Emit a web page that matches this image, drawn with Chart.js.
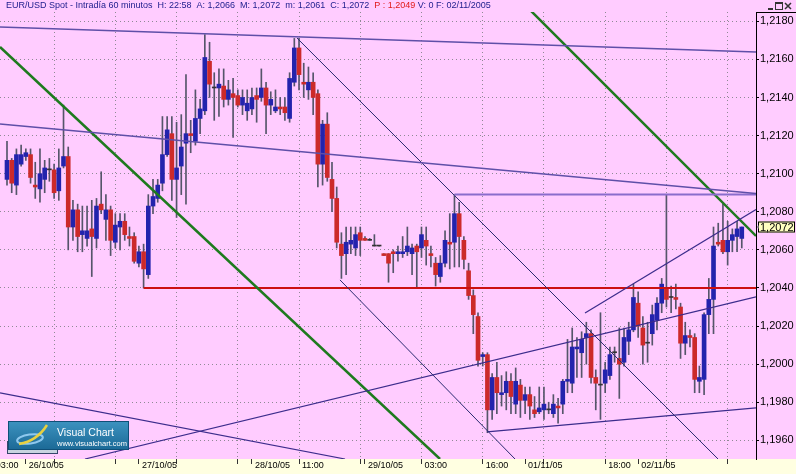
<!DOCTYPE html>
<html><head><meta charset="utf-8">
<script src="https://cdn.jsdelivr.net/npm/chart.js@4.4.0/dist/chart.umd.min.js"></script>
<style>html,body{margin:0;padding:0;background:#FFCCFF;overflow:hidden}canvas{display:block}</style>
</head><body>
<canvas id="c" width="796" height="474"></canvas>
<script>
// ---- data: hourly EUR/USD candles (index 0 = first bar on the chart) ----
const opens = [
1.2097,1.2107,1.2094,1.2105,1.2109,1.2110,1.2094,1.2092,1.2097,1.2102,
1.2102,1.2091,1.2104,1.2109,1.2072,1.2081,1.2068,1.2066,1.2071,1.2066,
1.2084,1.2076,1.2081,1.2064,1.2072,1.2075,1.2067,1.2067,1.2053,1.2059,
1.2047,1.2083,1.2087,1.2095,1.2110,1.2121,1.2097,1.2104,1.2116,1.2121,
1.2117,1.2129,1.2133,1.2159,1.2145,1.2145,1.2146,1.2139,1.2142,1.2141,
1.2136,1.2133,1.2134,1.2141,1.2140,1.2145,1.2136,1.2133,1.2135,1.2135,
1.2129,1.2148,1.2166,1.2148,1.2144,1.2148,1.2142,1.2105,1.2126,1.2097,
1.2087,1.2063,1.2058,1.2063,1.2061,1.2069,1.2066,1.2065,1.2062,1.2062,
1.2058,1.2058,1.2059,1.2058,1.2058,1.2059,1.2058,1.2062,1.2061,1.2065,
1.2058,1.2053,1.2046,1.2053,1.2064,1.2064,1.2079,1.2065,1.2049,1.2036,
1.2025,1.2004,1.2005,1.1976,1.1993,1.1984,1.1985,1.1991,1.1979,1.1989,
1.1981,1.1984,1.1976,1.1975,1.1976,1.1976,1.1974,1.1978,1.1979,1.1991,
1.1990,1.2008,1.2006,1.2014,1.2016,1.1993,1.1989,1.1990,1.1994,1.2006,
1.2003,1.2001,1.2012,1.2018,1.2032,1.2019,1.2011,1.2016,1.2023,1.2032,
1.2040,1.2035,1.2035,1.2030,1.2011,1.2015,1.2014,1.1991,1.1992,1.2026,
1.2034,1.2064,1.2065,1.2059,1.2065,1.2067,1.2066];
const highs = [
1.2117,1.2108,1.2113,1.2115,1.2113,1.2113,1.2106,1.2113,1.2107,1.2108,
1.2105,1.2113,1.2136,1.2114,1.2086,1.2084,1.2083,1.2083,1.2086,1.2087,
1.2101,1.2089,1.2083,1.2079,1.2079,1.2079,1.2072,1.2069,1.2062,1.2063,
1.2089,1.2097,1.2097,1.2130,1.2130,1.2130,1.2127,1.2131,1.2152,1.2128,
1.2144,1.2139,1.2173,1.2169,1.2153,1.2155,1.2155,1.2149,1.2150,1.2144,
1.2144,1.2144,1.2145,1.2145,1.2155,1.2148,1.2143,1.2144,1.2140,1.2140,
1.2153,1.2171,1.2171,1.2158,1.2156,1.2153,1.2144,1.2128,1.2132,1.2106,
1.2093,1.2069,1.2072,1.2072,1.2072,1.2072,1.2067,1.2066,1.2068,1.2062,
1.2058,1.2058,1.2060,1.2062,1.2067,1.2072,1.2063,1.2063,1.2072,1.2072,
1.2062,1.2056,1.2057,1.2070,1.2079,1.2089,1.2085,1.2067,1.2053,1.2039,
1.2027,1.2006,1.2006,1.1995,1.2001,1.1994,1.1996,1.1995,1.1998,1.1992,
1.1988,1.1988,1.1983,1.1988,1.1988,1.1980,1.1984,1.1982,1.1992,1.2013,
1.2019,1.2014,1.2017,1.2022,1.2018,1.1997,1.2027,1.2001,1.2009,1.2009,
1.2019,1.2019,1.2022,1.2042,1.2038,1.2025,1.2022,1.2031,1.2035,1.2045,
1.2089,1.2041,1.2042,1.2032,1.2022,1.2018,1.2016,1.1999,1.2027,1.2045,
1.2072,1.2074,1.2084,1.2075,1.2071,1.2075,1.2072];
const lows = [
1.2094,1.2090,1.2089,1.2104,1.2107,1.2095,1.2087,1.2085,1.2090,1.2096,
1.2087,1.2086,1.2103,1.2060,1.2065,1.2059,1.2059,1.2062,1.2046,1.2061,
1.2079,1.2065,1.2057,1.2061,1.2060,1.2065,1.2062,1.2053,1.2051,1.2040,
1.2045,1.2079,1.2085,1.2091,1.2109,1.2086,1.2077,1.2089,1.2084,1.2111,
1.2115,1.2121,1.2131,1.2140,1.2128,1.2130,1.2135,1.2136,1.2119,1.2135,
1.2131,1.2128,1.2131,1.2127,1.2138,1.2121,1.2131,1.2132,1.2131,1.2128,
1.2127,1.2146,1.2144,1.2140,1.2139,1.2131,1.2093,1.2094,1.2096,1.2080,
1.2061,1.2045,1.2047,1.2058,1.2057,1.2057,1.2065,1.2065,1.2062,1.2062,
1.2057,1.2043,1.2048,1.2054,1.2056,1.2057,1.2047,1.2040,1.2056,1.2052,
1.2051,1.2041,1.2043,1.2051,1.2050,1.2051,1.2051,1.2050,1.2034,1.2016,
1.1999,1.1999,1.1964,1.1971,1.1974,1.1978,1.1976,1.1974,1.1974,1.1972,
1.1974,1.1971,1.1972,1.1974,1.1971,1.1974,1.1972,1.1969,1.1974,1.1985,
1.1985,1.1993,1.1993,1.2000,1.1990,1.1976,1.1971,1.1985,1.1992,1.2001,
1.1982,1.1999,1.2005,1.2017,1.2014,1.2000,1.2001,1.2010,1.2018,1.2027,
1.2030,1.2027,1.2029,1.2003,1.2005,1.2009,1.1985,1.1985,1.1984,1.2016,
1.2016,1.2062,1.2058,1.2052,1.2059,1.2059,1.2061];
const closes = [
1.2107,1.2095,1.2110,1.2110,1.2111,1.2098,1.2093,1.2100,1.2103,1.2102,
1.2090,1.2103,1.2109,1.2072,1.2081,1.2067,1.2070,1.2070,1.2067,1.2083,
1.2081,1.2081,1.2065,1.2073,1.2075,1.2068,1.2066,1.2054,1.2059,1.2050,
1.2083,1.2088,1.2094,1.2110,1.2123,1.2097,1.2103,1.2114,1.2121,1.2120,
1.2129,1.2134,1.2161,1.2147,1.2145,1.2147,1.2139,1.2144,1.2140,1.2136,
1.2140,1.2137,1.2140,1.2139,1.2145,1.2136,1.2139,1.2135,1.2134,1.2132,
1.2150,1.2166,1.2152,1.2147,1.2148,1.2140,1.2105,1.2126,1.2098,1.2087,
1.2064,1.2057,1.2064,1.2065,1.2068,1.2065,1.2065,1.2065,1.2062,1.2062,
1.2057,1.2053,1.2058,1.2059,1.2059,1.2062,1.2061,1.2059,1.2068,1.2062,
1.2057,1.2047,1.2053,1.2065,1.2063,1.2079,1.2067,1.2055,1.2036,1.2026,
1.2002,1.2005,1.1976,1.1993,1.1985,1.1985,1.1991,1.1983,1.1991,1.1981,
1.1984,1.1978,1.1974,1.1977,1.1979,1.1976,1.1979,1.1977,1.1991,1.1992,
1.2009,1.2009,1.2013,1.2016,1.1993,1.1990,1.1989,1.1997,1.2005,1.2006,
1.2000,1.2014,1.2018,1.2035,1.2020,1.2010,1.2011,1.2026,1.2032,1.2042,
1.2034,1.2035,1.2034,1.2011,1.2015,1.2014,1.1992,1.1993,1.2026,1.2034,
1.2062,1.2063,1.2059,1.2065,1.2068,1.2071,1.2072];

// axis ticks
const yTicks = [1.1960,1.1980,1.2000,1.2020,1.2040,1.2060,1.2080,1.2100,1.2120,1.2140,1.2160,1.2180];
const gridIdx = [10,23,36,49,62,75,88,101,114,127,140,153];
const hourIdx = [62,88,101,127,-3];
const hourLabels = ['11:00','03:00','16:00','18:00','03:00'];
const dateIdx = [4,28,52,76,110,134];
const dateLabels = ['26/10/05','27/10/05','28/10/05','29/10/05','01/11/05','02/11/05'];

// drawn studies: [bar index, price] end points
const lineTopA  = [[-1.486,1.21770],[159.02,1.21639]];
const lineMidB  = [[-1.486,1.21261],[159.02,1.20896]];
const lineHorC  = [[95,1.20890],[159.02,1.20890]];
const chanTopD  = [[61.57,1.21712],[150.96,1.19502]];
const chanLowE  = [[70.70,1.20442],[107.86,1.19502]];
const lineLowF  = [[101.91,1.19644],[159.02,1.19770]];
const lineUpG   = [[16.56,1.19502],[159.02,1.20353]];
const lineUpH   = [[122.72,1.20269],[159.02,1.20812]];
const lineDownI = [[-1.486,1.19849],[71.76,1.19502]];
const greenJ    = [[-1.486,1.21665],[91.93,1.19502]];
const greenK    = [[108.92,1.21912],[159.02,1.20673]];
const support   = [[29,1.2040],[159.02,1.2040]];

const X_MIN = -1.486, X_MAX = 159.02, Y_MIN = 1.195020, Y_MAX = 1.218488;

const PINK = '#FFCCFF', YELLOW = '#FFFFE1', BLUE = '#2323ad', RED = '#cc2a2a', WICK = '#55556a', GRID = '#8f8a95';

const idx = opens.map((_, i) => i);
const bodies = idx.map(i => ({x: i, y: [opens[i], closes[i]]}));
const wicks = idx.map(i => ({x: i, y: [lows[i], highs[i]]}));
const bodyColors = idx.map(i => closes[i] > opens[i] ? BLUE : (closes[i] < opens[i] ? RED : '#333333'));
const toPts = arr => arr.map(p => ({x: p[0], y: p[1]}));
const lineDs = (arr, color, w) => ({type: 'line', data: toPts(arr), borderColor: color, borderWidth: w,
  pointRadius: 0, fill: false, tension: 0, clip: 0, order: 0});

function xLabel(v) {
  let k = hourIdx.indexOf(v); if (k >= 0) return hourLabels[k];
  k = dateIdx.indexOf(v); if (k >= 0) return dateLabels[k];
  return '';
}
// first and last ticks must be inside the plot so the axis adds no side padding
const xTickValues = [...dateIdx, -3, ...gridIdx];

const deco = {
  id: 'deco',
  beforeDraw(chart) {
    const {ctx, width, height, chartArea: a} = chart;
    ctx.save();
    ctx.fillStyle = PINK; ctx.fillRect(0, 0, width, height);
    ctx.fillStyle = YELLOW; ctx.fillRect(0, a.bottom, width, height - a.bottom);
    ctx.restore();
  },
  afterDraw(chart) {
    const {ctx, chartArea: a, scales} = chart;
    ctx.save();
    // title
    ctx.font = '9px "Liberation Sans"'; ctx.textBaseline = 'middle';
    const parts = [['EUR/USD Spot - Intradía 60 minutos  H: 22:58  A: 1,2066  M: 1,2072  m: 1,2061  C: 1,2072  ', '#1c1c8c'],
                   ['P : 1,2049', '#e01818'], [' V: 0 F: 02/11/2005', '#1c1c8c']];
    let tx = 6;
    for (const [t, c] of parts) { ctx.fillStyle = c; ctx.fillText(t, tx, 6); tx += ctx.measureText(t).width; }
    // window buttons
    ctx.fillStyle = '#333'; ctx.fillRect(768, 8, 5, 2);
    ctx.strokeStyle = '#333'; ctx.lineWidth = 1; ctx.strokeRect(775.5, 2.5, 7, 7); ctx.fillRect(775, 2, 8, 2);
    ctx.lineWidth = 1.5; ctx.beginPath(); ctx.moveTo(785, 3); ctx.lineTo(791, 9); ctx.moveTo(791, 3); ctx.lineTo(785, 9); ctx.stroke();
    // axis panel top border
    ctx.lineWidth = 1; ctx.strokeStyle = '#000'; ctx.beginPath(); ctx.moveTo(a.right, a.top + 0.5); ctx.lineTo(796, a.top + 0.5); ctx.stroke();
    // last price badge
    const last = closes[closes.length - 1];
    const py = Math.round(scales.y.getPixelForValue(last));
    ctx.fillStyle = '#FFFFC0'; ctx.fillRect(758, py - 5.5, 37, 11);
    ctx.strokeStyle = '#000'; ctx.strokeRect(758.5, py - 5, 36, 10);
    ctx.fillStyle = '#000'; ctx.font = '11px "Liberation Sans"'; ctx.textBaseline = 'middle';
    ctx.fillText(last.toFixed(4).replace('.', ','), 760, py + 0.5);
    ctx.fillStyle = '#666'; ctx.beginPath(); ctx.moveTo(757, py); ctx.lineTo(759, py - 2); ctx.lineTo(759, py + 2); ctx.fill();
    // logo
    ctx.fillStyle = '#c8d4e0'; ctx.fillRect(7, 441, 50, 13);
    ctx.strokeStyle = '#34466a'; ctx.strokeRect(7.5, 441.5, 50, 12);
    const g = ctx.createLinearGradient(0, 421, 0, 450);
    g.addColorStop(0, '#3d93c0'); g.addColorStop(1, '#1b6996');
    ctx.fillStyle = g; ctx.fillRect(8, 421, 121, 29);
    ctx.strokeStyle = '#0f4f78'; ctx.strokeRect(8.5, 421.5, 120, 28);
    ctx.strokeStyle = '#8ec8ee'; ctx.lineWidth = 2; ctx.beginPath(); ctx.ellipse(30, 439, 13, 4.5, -0.15, 0, Math.PI * 2); ctx.stroke();
    ctx.strokeStyle = '#e8d040'; ctx.lineWidth = 2.5; ctx.beginPath(); ctx.moveTo(19, 444); ctx.quadraticCurveTo(37, 441, 47, 425); ctx.stroke();
    ctx.fillStyle = '#fff'; ctx.textBaseline = 'alphabetic';
    ctx.font = '10.5px "Liberation Sans"'; ctx.fillText('Visual Chart', 57, 436);
    ctx.font = '7.5px "Liberation Sans"'; ctx.fillText('www.visualchart.com', 57, 446);
    ctx.restore();
  }
};

new Chart(document.getElementById('c'), {
  type: 'bar',
  data: {
    datasets: [
      {type: 'bar', data: bodies, backgroundColor: bodyColors, barThickness: 4, minBarLength: 1, grouped: false, order: 2},
      {type: 'bar', data: wicks, backgroundColor: WICK, barThickness: 1, grouped: false, order: 3},
      lineDs(lineTopA, '#5f4fa8', 1.5),
      lineDs(lineMidB, '#5f4fa8', 1.5),
      lineDs(lineHorC, '#8a6ccc', 2),
      lineDs(chanTopD, '#2a2a70', 1),
      lineDs(chanLowE, '#2a2a70', 1),
      lineDs(lineLowF, '#3c2c8c', 1.2),
      lineDs(lineUpG, '#3c2c8c', 1.2),
      lineDs(lineUpH, '#3c2c8c', 1.2),
      lineDs(lineDownI, '#3c2c8c', 1.2),
      lineDs(greenJ, '#1e7a1e', 2.5),
      lineDs(greenK, '#1e7a1e', 2.5),
      lineDs(support, '#cc1010', 2)
    ]
  },
  options: {
    responsive: false, animation: false, devicePixelRatio: 1, events: [],
    layout: {padding: {top: 12, left: 0, right: 0, bottom: 0}},
    plugins: {legend: {display: false}, tooltip: {enabled: false}, title: {display: false}},
    scales: {
      x: {
        type: 'linear', min: X_MIN, max: X_MAX, bounds: 'data', offset: false,
        afterBuildTicks: s => { s.ticks = xTickValues.map(v => ({value: v})); },
        afterFit: s => { s.height = 15; },
        ticks: {autoSkip: false, maxRotation: 0, minRotation: 0, align: 'start', labelOffset: 3, padding: -4,
          color: '#000', font: {family: 'Liberation Sans', size: 9}, callback: v => xLabel(v)},
        grid: {offset: false, drawTicks: true, tickLength: 5, lineWidth: 1,
          color: c => (c.tick && gridIdx.includes(c.tick.value)) ? GRID : 'rgba(0,0,0,0)',
          tickColor: '#333'},
        border: {display: false, dash: [1, 3]}
      },
      y: {
        type: 'linear', position: 'right', min: Y_MIN, max: Y_MAX, bounds: 'data',
        afterBuildTicks: s => { s.ticks = yTicks.map(v => ({value: v})); },
        afterFit: s => { s.width = 40; },
        ticks: {color: '#000', padding: 1, font: {family: 'Liberation Sans', size: 11},
          callback: v => v.toFixed(4).replace('.', ',')},
        grid: {color: GRID, lineWidth: 1, tickLength: 3, tickColor: '#000', drawTicks: true},
        border: {display: true, color: '#000', width: 1, dash: [1, 3]}
      }
    }
  },
  plugins: [deco]
});
</script>
</body></html>
